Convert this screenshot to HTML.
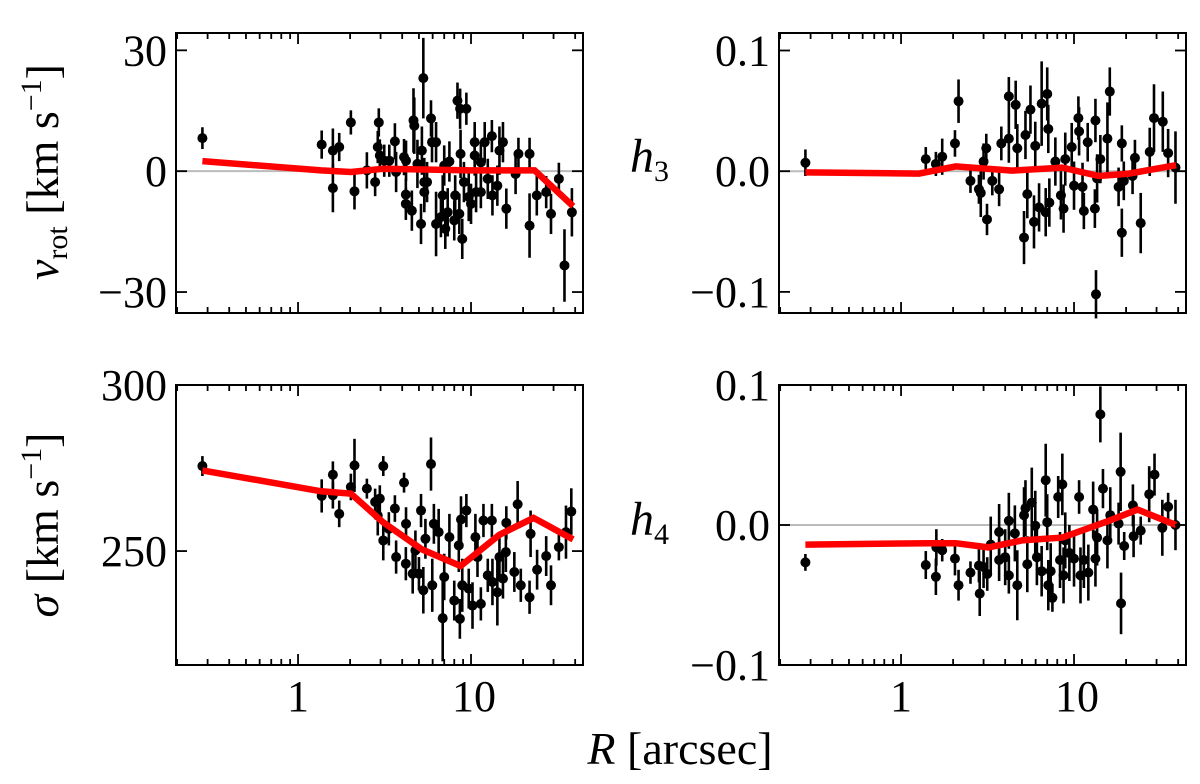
<!DOCTYPE html>
<html><head><meta charset="utf-8"><style>
body{margin:0;background:#fff;}
svg{display:block;font-family:"Liberation Serif","DejaVu Serif",serif;}
</style></head><body>
<svg id="fig" width="1200" height="784" viewBox="0 0 1200 784"></svg>
<script>
// ---- data ----
const vrotR=[0.28,1.37,1.59,1.59,1.73,2.02,2.12,2.5,2.79,2.89,2.93,2.97,3.15,3.37,3.63,3.69,4.1,4.2,4.2,4.21,4.55,4.65,4.7,4.9,5.14,5.2,5.3,5.37,5.37,5.57,5.87,5.95,6.28,6.28,6.7,6.86,7.0,7.1,7.33,7.5,8.0,8.1,8.35,8.56,8.65,8.7,8.9,9.1,9.4,9.7,10,10.5,10.5,10.7,11.4,11.4,12,12.5,13.2,13.3,14.2,14.6,15.3,16.0,18.1,18.8,21.8,21.8,24.0,27.2,29,32.2,34.7,38.3];
const vrotV=[8.2,6.6,5.1,-4.2,6.0,12.1,-5.0,0.2,-2.7,6.0,12.1,3.9,2.6,2.6,7.4,-0.2,3.5,-5.8,-8.1,2.6,-9.8,12.6,11.3,1.8,-13.1,5.1,23.1,-2.7,-5.2,-2.7,13.1,7.2,7.2,-13.1,-11.4,-6.0,1.4,-14.3,-10.2,2.4,-12.2,-6.0,17.5,-10.6,15.5,4.3,-16.8,-2.7,15.5,-6.4,-8.1,7.2,3.9,-5.2,2.2,-5.2,7.2,-1.9,8.7,-6.0,-3.6,5.1,7.2,-9.3,-0.7,4.3,4.3,-13.5,-6.0,-5.2,-10.6,-1.9,-23.4,-10.2];
const vrotE=[2.7,3.5,5.5,6,3.5,3,4.5,4.5,3.5,4,3.5,4,4,4,4.5,5,4.5,4,4,5,5,8,7,6,5,6,10,6,5,5,4.5,5,5,8,5,5,5,5,6,5,5,5,4.5,5,5,6,5,5,4,6,5,5,5,5,5,4,5,5,4,5,5,6,5,5,5,4,4,8,5,4,5,4,9,6];
const vrotFitR=[0.28,1.36,2.02,3.1,10,23.3,38.9];
const vrotFitV=[2.5,0.2,-0.2,0.6,0.2,0.2,-8.7];

const h3R=[0.28,1.39,1.59,1.73,2.05,2.15,2.52,2.82,2.89,3.0,3.11,3.14,3.37,3.69,3.8,4.2,4.2,4.6,4.7,5.14,5.24,5.37,5.6,5.87,5.97,6.28,6.5,6.86,7.0,7.1,7.2,7.8,8.4,8.7,8.9,9.7,10,10.6,10.7,11.2,11.4,12,13.2,13.3,13.4,13.6,14.2,15.6,16.1,18.1,18.9,19.4,18.9,22.5,21.8,24.3,27.4,29,32.6,35,38.6];
const h3V=[0.007,0.010,0.006,0.012,0.023,0.058,-0.008,-0.015,-0.018,0.008,0.019,-0.040,-0.008,-0.015,0.023,0.062,0.027,0.055,0.019,-0.055,0.030,-0.019,0.051,-0.042,0.021,-0.030,0.056,-0.034,0.064,0.035,-0.026,0.008,-0.020,-0.031,0.010,0.020,-0.012,0.044,0.033,-0.013,-0.033,0.024,-0.031,0.042,-0.102,-0.006,0.010,0.027,0.066,-0.013,-0.051,-0.008,0.023,0.011,-0.004,-0.043,0.016,0.044,0.041,0.015,0.003];
const h3E=[0.011,0.01,0.01,0.015,0.011,0.018,0.01,0.012,0.02,0.015,0.012,0.013,0.012,0.014,0.014,0.016,0.02,0.02,0.02,0.022,0.02,0.02,0.02,0.022,0.02,0.02,0.035,0.02,0.022,0.02,0.02,0.02,0.02,0.02,0.022,0.02,0.02,0.018,0.02,0.02,0.015,0.016,0.016,0.018,0.02,0.02,0.02,0.03,0.02,0.016,0.02,0.016,0.015,0.015,0.015,0.025,0.02,0.028,0.025,0.02,0.03];
const h3FitR=[0.28,1.27,2.07,4.4,8.56,13.9,20.8,38.9];
const h3FitV=[-0.001,-0.002,0.004,0.0005,0.003,-0.004,-0.002,0.005];

const sigR=[0.28,1.37,1.59,1.59,1.73,2.02,2.12,2.5,2.79,2.89,2.97,3.11,3.11,3.35,3.63,3.69,4.1,4.2,4.21,4.6,4.77,5.0,5.14,5.3,5.45,5.87,5.97,6.1,6.5,6.86,7.0,7.5,8.0,8.5,8.62,8.75,8.9,9.4,9.7,10.2,10.6,10.9,11.4,11.8,12.5,13.2,13.3,14.2,14.6,15.3,16.0,15.9,17.8,18.6,19.4,21.8,22.1,24.1,27.2,29,32.2,35.4,38.0];
const sigV=[275.6,266.6,266.8,273,261.2,269.3,275.8,268.8,264.8,260.7,265.8,275.6,253.2,256.7,262.8,248.2,270.6,246.2,258.2,243.2,250.2,243.2,262.2,238.2,253.7,276.2,239.7,258.2,255.7,229.8,242.2,254.2,235.1,251.7,229.6,259.5,239.7,262.2,238.7,233.6,254.2,248.2,234.1,259.2,242.7,259.2,240.7,237.6,248.2,241.7,258.5,249.7,243.7,264.1,239.7,236.1,255.2,244.4,248.5,239.7,251.2,255.7,261.9];
const sigE=[3,5,4,4,4,4,8,3,4,6,4,3,6,5,4,5,3,5,5,6,6,5,5,7,6,8,8,6,7,13,7,7,6,8,6,7,8,5,6,7,7,6,5,5,5,5,7,10,7,6,5,6,6,7,5,5,7,6,6,6,4,8,7];
const sigFitR=[0.28,1.36,2.02,3.1,5.2,8.7,14.6,23,38.9];
const sigFitV=[274.3,268,267.3,258.7,250.5,245.5,254.9,260,253.5];

const h4R=[0.28,1.39,1.59,1.6,1.73,2.05,2.15,2.52,2.82,2.85,3.0,3.15,3.3,3.69,3.69,4.0,4.2,4.2,4.55,4.7,5.14,5.24,5.37,5.7,5.97,6.1,6.5,6.86,7.0,7.1,7.33,7.5,8.1,8.3,8.56,8.7,8.9,9.4,10,10.7,10.9,11.4,12.1,12.9,13.3,13.6,14.2,14.7,15.6,16.2,18.6,18.1,18.7,19.5,21.9,22.1,24.3,27.2,29.2,32.4,35,38.6];
const h4V=[-0.0267,-0.0286,-0.037,-0.016,-0.018,-0.024,-0.043,-0.034,-0.029,-0.049,-0.030,-0.035,-0.014,-0.005,-0.025,-0.023,0.003,-0.036,-0.006,-0.043,0.007,0.012,-0.028,0.016,-0.0005,-0.023,-0.033,0.032,0.002,-0.043,-0.033,-0.052,0.020,-0.025,0.029,-0.036,-0.011,-0.020,-0.024,0.020,-0.036,-0.025,-0.034,0.011,-0.024,-0.009,0.079,0.026,-0.011,0.007,0.038,0.001,-0.056,-0.015,0.014,-0.008,-0.004,0.022,0.036,-0.002,0.013,0];
const h4E=[0.006,0.01,0.013,0.013,0.008,0.012,0.011,0.008,0.012,0.016,0.015,0.012,0.02,0.02,0.015,0.02,0.02,0.013,0.02,0.025,0.02,0.02,0.02,0.025,0.025,0.02,0.018,0.026,0.02,0.018,0.02,0.01,0.015,0.02,0.022,0.02,0.02,0.02,0.02,0.012,0.02,0.02,0.02,0.02,0.02,0.02,0.02,0.014,0.02,0.02,0.028,0.015,0.022,0.01,0.015,0.015,0.01,0.02,0.015,0.02,0.01,0.018];
const h4FitR=[0.28,1.45,2.07,3.2,5.0,8.56,15.9,23.3,38.9];
const h4FitV=[-0.014,-0.013,-0.013,-0.016,-0.011,-0.009,0.003,0.011,0];

// ---- drawing ----
const NS='http://www.w3.org/2000/svg';
const svg=document.getElementById('fig');
function mk(tag,attrs,parent){const e=document.createElementNS(NS,tag);for(const k in attrs)e.setAttribute(k,attrs[k]);(parent||svg).appendChild(e);return e;}
const XMIN=Math.log10(0.197),XMAX=Math.log10(44.4);
function panel(name,x0,x1,y0,y1,ymin,ymax,R,V,E,FR,FV,yticks,ylabels,zeroLine,showXLabels){
  const g=mk('g',{});
  
  
  const xs=r=>x0+(Math.log10(r)-XMIN)/(XMAX-XMIN)*(x1-x0);
  const ys=v=>y1-(v-ymin)/(ymax-ymin)*(y1-y0);
  if(zeroLine){const l=mk('line',{x1:x0,x2:x1,y1:ys(0),y2:ys(0),stroke:'#bbb','stroke-width':2},g);
    
    }
  for(let i=0;i<R.length;i++){
    const x=xs(R[i]);
    const eb=mk('line',{x1:x,x2:x,y1:ys(V[i]-E[i]),y2:ys(V[i]+E[i]),stroke:'#000','stroke-width':2.6},g);
    
    
    const c=mk('circle',{cx:x,cy:ys(V[i]),r:5,fill:'#000'},g);
    
    
  }
  const pts=FR.map((r,i)=>xs(r).toFixed(1)+','+ys(FV[i]).toFixed(1)).join(' ');
  const pl=mk('polyline',{points:pts,fill:'none',stroke:'#f00','stroke-width':6.5,'stroke-linejoin':'miter'},g);
  
  
  const fr=mk('rect',{x:x0,y:y0,width:x1-x0,height:y1-y0,fill:'none',stroke:'#000','stroke-width':2},g);
  
  
  for(let d=-1;d<=1;d++)for(let m=1;m<10;m++){const r=m*Math.pow(10,d);const lx=Math.log10(r);if(lx<XMIN||lx>XMAX)continue;
    const x=xs(r),L=m===1?11:6;
    mk('line',{x1:x,x2:x,y1:y1,y2:y1-L,stroke:'#000','stroke-width':1.8},g);
    mk('line',{x1:x,x2:x,y1:y0,y2:y0+L,stroke:'#000','stroke-width':1.8},g);}
  if(showXLabels){[[1,'1'],[10,'10']].forEach(([r,t])=>{const tx=mk('text',{x:xs(r)+(t==='10'?3:0),y:y1+46,'font-size':44,'text-anchor':'middle'},g);tx.textContent=t;
    
    });}
  yticks.forEach((v,i)=>{const y=ys(v);
    mk('line',{x1:x0,x2:x0+11,y1:y,y2:y,stroke:'#000','stroke-width':1.8},g);
    mk('line',{x1:x1,x2:x1-11,y1:y,y2:y,stroke:'#000','stroke-width':1.8},g);
    const tx=mk('text',{x:x0-9,y:y+15,'font-size':44,'text-anchor':'end'},g);tx.textContent=ylabels[i];
    
    });
}
panel('vrot-panel',176,583,33,313,-35.2,34.3,vrotR,vrotV,vrotE,vrotFitR,vrotFitV,[30,0,-30],['30','0','\u221230'],true,false);
panel('h3-panel',779,1186,33,313,-0.1175,0.1145,h3R,h3V,h3E,h3FitR,h3FitV,[0.1,0,-0.1],['0.1','0.0','\u22120.1'],true,false);
panel('sigma-panel',176,583,385,665,215.7,300,sigR,sigV,sigE,sigFitR,sigFitV,[300,250],['300','250'],false,true);
panel('h4-panel',779,1186,385,665,-0.1,0.1,h4R,h4V,h4E,h4FitR,h4FitV,[0.1,0,-0.1],['0.1','0.0','\u22120.1'],true,true);
</script>
<script>
(function(){
const NS='http://www.w3.org/2000/svg';const svg=document.getElementById('fig');
function lab(html,attrs,name){const t=document.createElementNS(NS,'text');for(const k in attrs)t.setAttribute(k,attrs[k]);t.innerHTML=html;svg.appendChild(t);
  
  }
lab('<tspan font-style="italic">v</tspan><tspan font-size="30" dy="9">rot</tspan><tspan dy="-9"> [km s</tspan><tspan font-size="30" dy="-17">\u22121</tspan><tspan dy="17">]</tspan>',
  {x:0,y:0,'font-size':46,'text-anchor':'middle',transform:'translate(58,172) rotate(-90)'},'vrot-axis-title');
lab('<tspan font-style="italic">\u03c3</tspan><tspan> [km s</tspan><tspan font-size="30" dy="-17">\u22121</tspan><tspan dy="17">]</tspan>',
  {x:0,y:0,'font-size':46,'text-anchor':'middle',transform:'translate(58,525) rotate(-90)'},'sigma-axis-title');
lab('<tspan font-style="italic">h</tspan><tspan font-size="30" dy="9">3</tspan>',{x:630,y:172,'font-size':48},'h3-axis-title');
lab('<tspan font-style="italic">h</tspan><tspan font-size="30" dy="9">4</tspan>',{x:630,y:535,'font-size':48},'h4-axis-title');
lab('<tspan font-style="italic">R</tspan><tspan> [arcsec]</tspan>',{x:680,y:764,'font-size':46,'text-anchor':'middle'},'x-axis-title');
})();
</script>
</body></html>
